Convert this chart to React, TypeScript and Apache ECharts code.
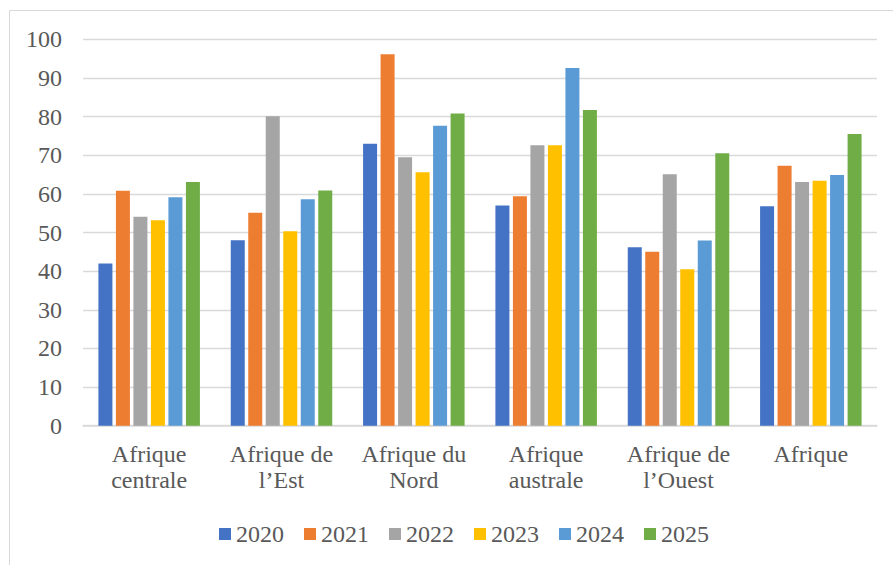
import React, { useEffect, useRef } from "react";
import * as echarts from "echarts";

const categories = [
  "Afrique\ncentrale",
  "Afrique de\nl’Est",
  "Afrique du\nNord",
  "Afrique\naustrale",
  "Afrique de\nl’Ouest",
  "Afrique",
];
const years = ["2020", "2021", "2022", "2023", "2024", "2025"];
const v2020 = [42, 48, 73, 57, 46.2, 56.8];
const v2021 = [60.8, 55.1, 96.1, 59.4, 45, 67.3];
const v2022 = [54.1, 80.1, 69.5, 72.6, 65.1, 63.1];
const v2023 = [53.2, 50.3, 65.6, 72.6, 40.5, 63.4];
const v2024 = [59.1, 58.6, 77.6, 92.6, 47.9, 64.9];
const v2025 = [63.1, 60.9, 80.8, 81.7, 70.5, 75.5];
const seriesValues = [v2020, v2021, v2022, v2023, v2024, v2025];
const colors = ["#4472C4", "#ED7D31", "#A5A5A5", "#FFC000", "#5B9BD5", "#70AD47"];

export default function App() {
  const ref = useRef<HTMLDivElement>(null);
  useEffect(() => {
    if (!ref.current) return;
    const chart = echarts.init(ref.current, null, { renderer: "svg" });
    const font = "Liberation Serif";
    chart.setOption({
      animation: false,
      backgroundColor: "#ffffff",
      color: colors,
      textStyle: { fontFamily: font },
      graphic: [
        {
          type: "rect",
          shape: { x: 9.5, y: 10.5, width: 900, height: 600 },
          style: { fill: "none", stroke: "#d9d9d9", lineWidth: 1 },
          silent: true,
        },
      ],
      grid: { left: 83, right: 16, top: 39.3, bottom: 139.3, containLabel: false },
      legend: {
        data: years,
        top: 522,
        left: 219,
        padding: 0,
        itemWidth: 12,
        itemHeight: 12,
        itemGap: 20,
        icon: "rect",
        textStyle: { fontFamily: font, fontSize: 24, color: "#595959" },
      },
      xAxis: {
        type: "category",
        data: categories,
        axisLine: { lineStyle: { color: "#d9d9d9", width: 1.5 } },
        axisTick: { show: false },
        axisLabel: {
          fontFamily: font,
          fontSize: 24,
          color: "#595959",
          lineHeight: 26,
          margin: 15,
          interval: 0,
        },
      },
      yAxis: {
        type: "value",
        min: 0,
        max: 100,
        interval: 10,
        axisLine: { show: false },
        axisTick: { show: false },
        splitLine: { lineStyle: { color: "#d9d9d9", width: 1.3 } },
        axisLabel: {
          fontFamily: font,
          fontSize: 24,
          color: "#595959",
          margin: 21,
        },
      },
      series: years.map((y, i) => ({
        name: y,
        type: "bar",
        data: seriesValues[i],
        barWidth: 14,
        barGap: "25%",
        itemStyle: { color: colors[i] },
      })),
    });
    return () => chart.dispose();
  }, []);
  return (
    <div
      ref={ref}
      style={{ position: "fixed", left: 0, top: 0, width: 893, height: 565 }}
    />
  );
}
